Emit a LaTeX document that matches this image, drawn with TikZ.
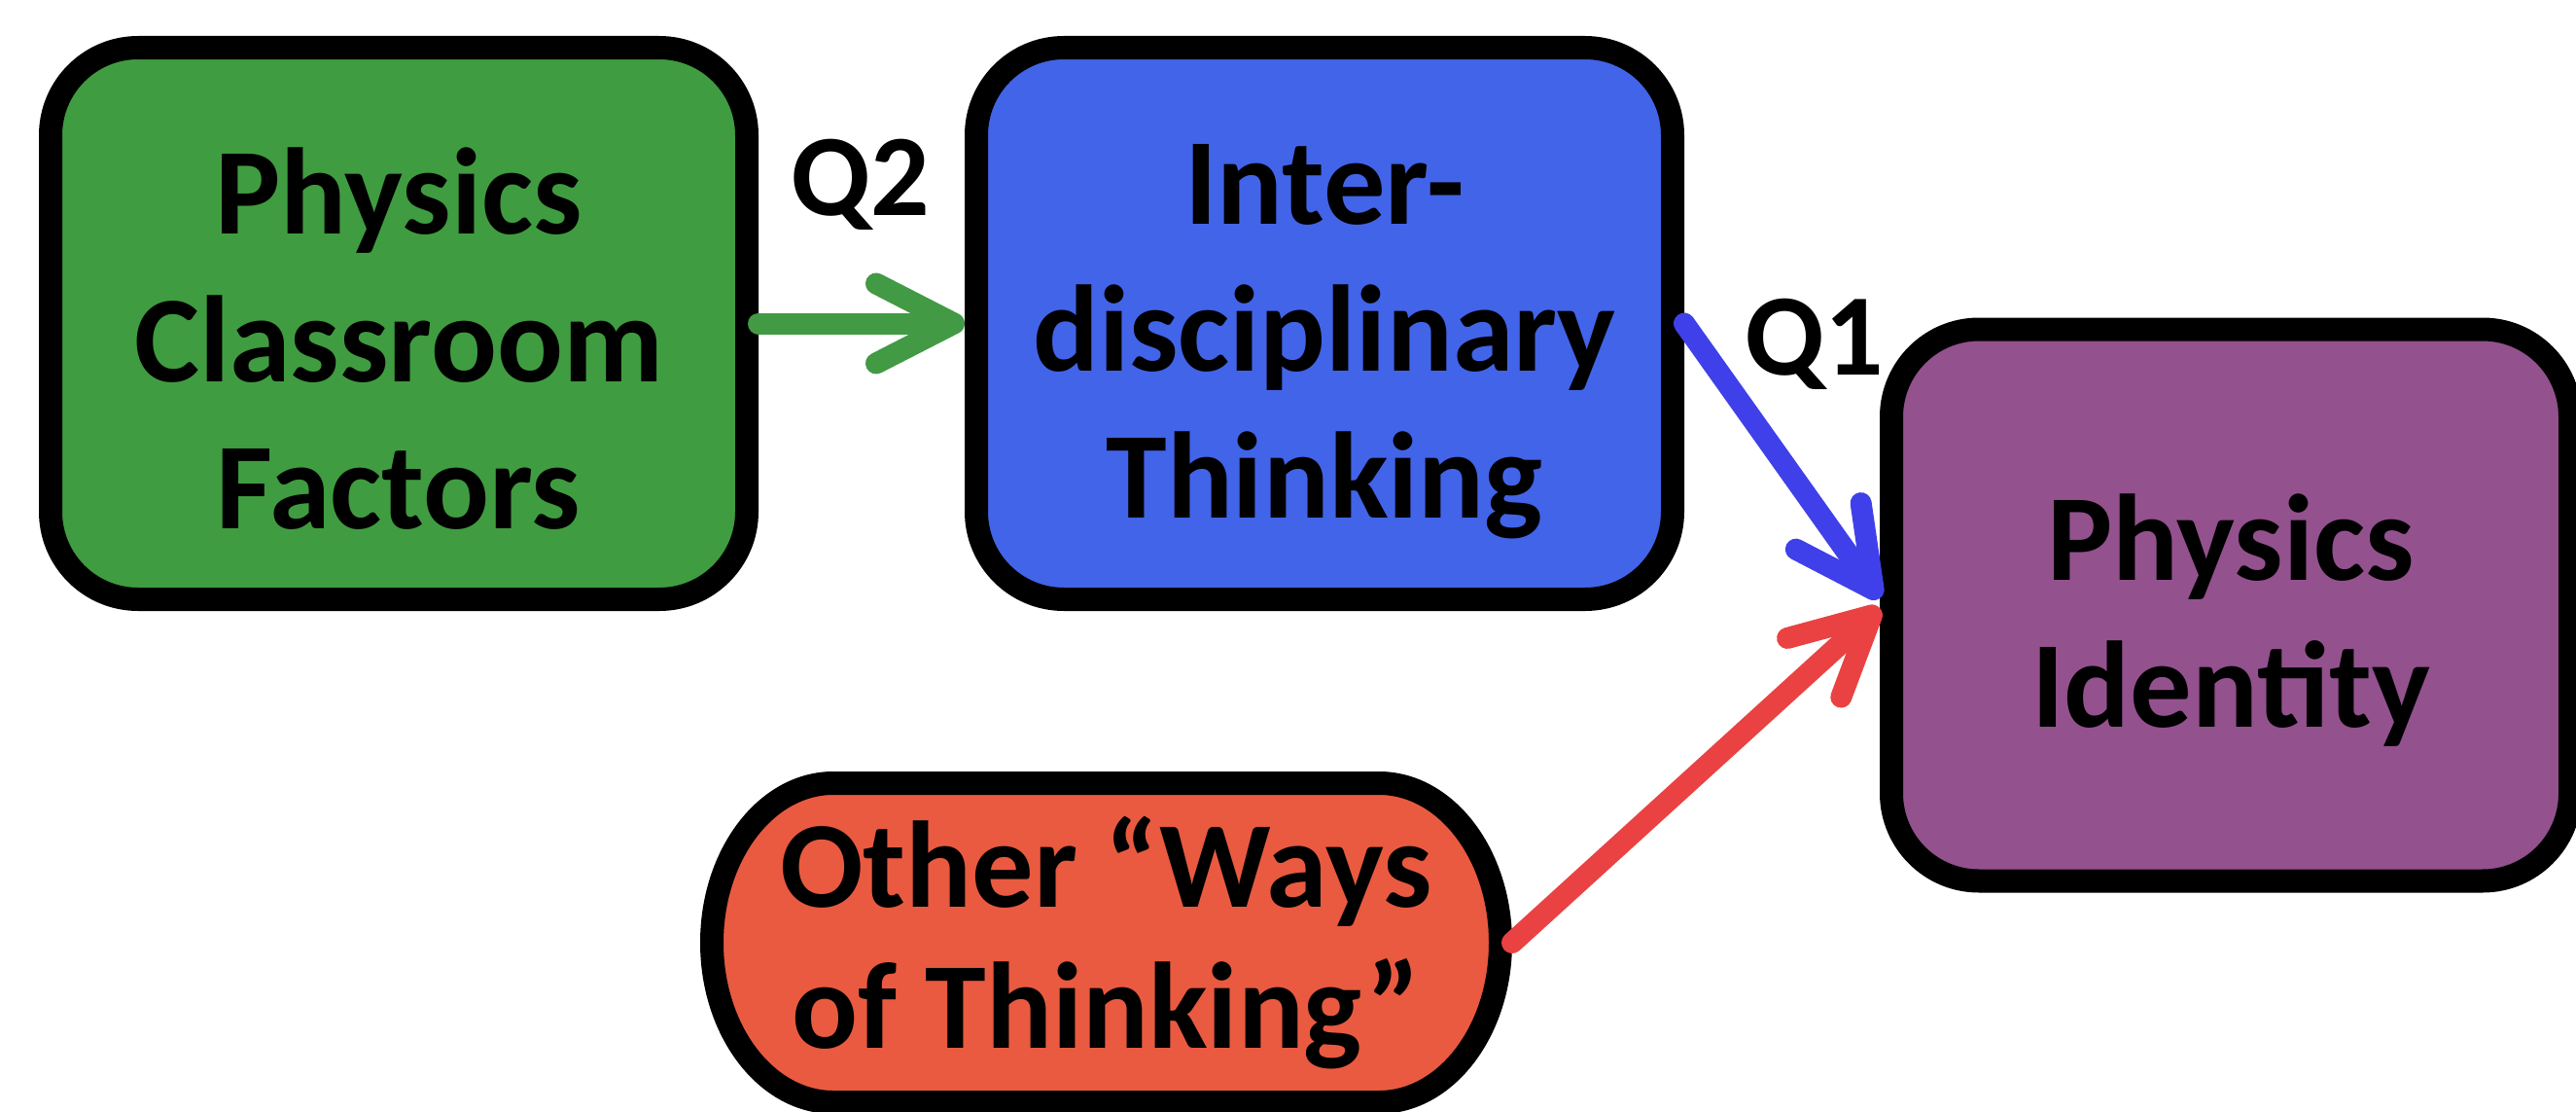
\documentclass[tikz,border=0pt]{standalone}
\usepackage{fontspec}
\setmainfont{Carlito}
\usepackage{tikz}
\usetikzlibrary{arrows.meta}
\usetikzlibrary{positioning}
\usetikzlibrary{shapes,fit,calc}

\definecolor{boxgreen}{RGB}{64,156,64}
\definecolor{boxblue}{RGB}{66,100,233}
\definecolor{boxpurple}{RGB}{147,81,142}
\definecolor{boxred}{RGB}{233,90,64}
\definecolor{arrowgreen}{RGB}{66,154,68}
\definecolor{arrowblue}{RGB}{64,64,234}
\definecolor{arrowred}{RGB}{234,66,66}

\begin{document}
\begin{tikzpicture}
    \newcommand{\boxstrut}{\rule{0pt}{1.2cm}}
    \tikzstyle{dedge} = [line width=0.22cm, line cap=round, -{Straight Barb[round,length=0.8cm,width=0.82cm]}]
    \tikzstyle{box}=[
      draw=black,
      line width=0.24cm,
      rounded corners=0.9cm,
      minimum width=7.16cm,
      minimum height=5.67cm,
      align=center,
      font=\fontsize{36}{43}\selectfont\bfseries,
    ]
    \tikzstyle{oval}=[
      draw=black,
      line width=0.24cm,
      fill=boxred,
    ]
    \tikzstyle{ovaltext}=[
      minimum width=8.35cm,
      minimum height=3.52cm,
      inner sep=0pt,
      outer sep=0pt,
      align=center,
      font=\fontsize{36}{41}\selectfont\bfseries,
    ]
    \tikzstyle{qlabel}=[
      anchor=base,
      inner sep=0pt,
      font=\fontsize{34}{40}\selectfont\bfseries,
    ]

    \useasboundingbox (0,0) rectangle (26.49,-11.43);
    \clip (0,0) rectangle (26.49,-11.43);

    \coordinate (topAnchor) at (4.10,-3.325);
    \coordinate (otherAnchor) at ([xshift=7.275cm, yshift=-6.365cm] topAnchor);

    % boxes
    {
      \node[box, fill=boxgreen] (classroom) at ([xshift=0cm, yshift=0cm] topAnchor) {\boxstrut Physics\\Classroom\\Factors};
      \node[box, fill=boxblue] (inter) at ([xshift=9.52cm, yshift=0cm] topAnchor) {\boxstrut Inter-\\disciplinary\\Thinking};
      \node[box, fill=boxpurple, minimum width=6.98cm] (identity) at ([xshift=18.84cm, yshift=-2.895cm] topAnchor) {\boxstrut Physics\\Identity};
    }

    % other ways of thinking
    {
      \filldraw[oval] ([xshift=-2.805cm, yshift=1.64cm] otherAnchor) -- ([xshift=2.805cm, yshift=1.64cm] otherAnchor)
        arc[start angle=90, end angle=-90, x radius=1.25cm, y radius=1.64cm]
        -- ([xshift=-2.805cm, yshift=-1.64cm] otherAnchor)
        arc[start angle=270, end angle=90, x radius=1.25cm, y radius=1.64cm] -- cycle;
      \node[ovaltext] (other) at (otherAnchor) {Other “Ways\\of Thinking”};
    }

    % links
    {
      \draw[dedge, draw=arrowgreen] (classroom.east)--(inter.west);
      \draw[dedge, draw=arrowblue] (inter.east)--([yshift=0.07cm] identity.west);
      \draw[dedge, draw=arrowred] (other.east)--([yshift=-0.03cm] identity.west);

      \node[qlabel] (q2) at ([xshift=4.75cm, yshift=1.115cm] topAnchor) {Q2};
      \node[qlabel] (q1) at ([xshift=14.56cm, yshift=-0.53cm] topAnchor) {Q1};
    }
\end{tikzpicture}
\end{document}
